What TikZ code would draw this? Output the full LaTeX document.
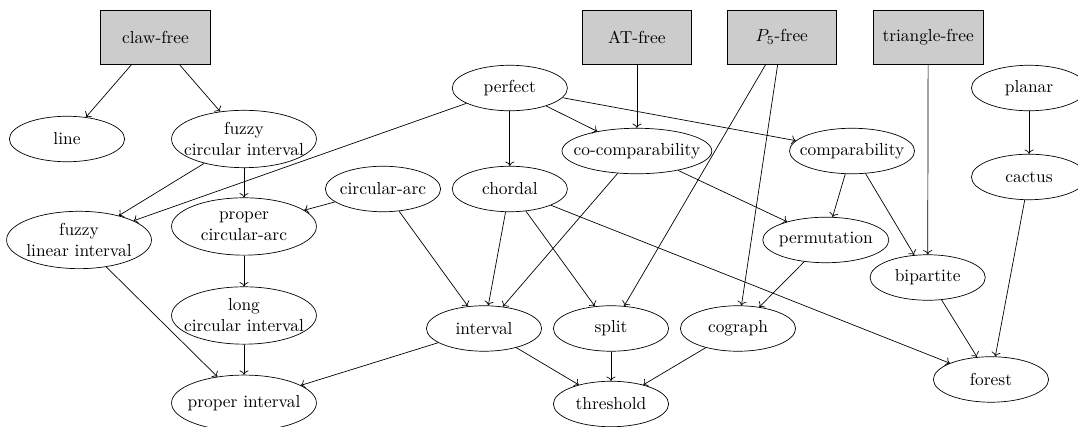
\documentclass[tikz,border=0pt]{standalone}
\usepackage{amsmath,amssymb}
\usepackage{tikz}
\usetikzlibrary{shapes.geometric,arrows.meta}

\begin{document}
\begin{tikzpicture}[
    cls/.style={ellipse, draw, align=center, inner xsep=-15pt, inner ysep=-5pt,
      minimum width=2.33cm, minimum height=0.92cm},
    twoline/.style={minimum width=2.93cm, minimum height=1.16cm},
    free/.style={rectangle, draw, fill=gray!40, minimum width=2.22cm, minimum height=1.09cm},
    edge/.style={->}
  ]
  \useasboundingbox (0,0) rectangle (21.8,8.635);

  % Forbidden-subgraph classes
  \node[free] (claw) at (3.145, 7.887) {claw-free};
  \node[free] (atfree) at (12.88, 7.887) {AT-free};
  \node[free] (pfive) at (15.81, 7.887) {$P_5$-free};
  \node[free] (trifree) at (18.77, 7.887) {triangle-free};

  % Graph classes
  \node[cls] (line) at (1.355, 5.824) {line};
  \node[cls, twoline] (fci) at (4.934, 5.824) {fuzzy\\circular interval};
  \node[cls] (perfect) at (10.31, 6.855) {perfect};
  \node[cls] (planar) at (20.81, 6.855) {planar};
  \node[cls, minimum width=3.03cm] (cocomp) at (12.88, 5.581) {co-comparability};
  \node[cls, minimum width=2.53cm] (comp) at (17.23, 5.581) {comparability};
  \node[cls] (cactus) at (20.81, 5.056) {cactus};
  \node[cls] (carc) at (7.745, 4.813) {circular-arc};
  \node[cls] (chordal) at (10.31, 4.813) {chordal};
  \node[cls, twoline] (fli) at (1.598, 3.782) {fuzzy\\linear interval};
  \node[cls, twoline] (pcarc) at (4.934, 4.055) {proper\\circular-arc};
  \node[cls, minimum width=2.55cm] (perm) at (16.70, 3.782) {permutation};
  \node[cls] (bip) at (18.76, 3.023) {bipartite};
  \node[cls, twoline] (lci) at (4.934, 2.255) {long\\circular interval};
  \node[cls] (interval) at (9.788, 1.992) {interval};
  \node[cls] (split) at (12.356, 1.992) {split};
  \node[cls] (cograph) at (14.924, 1.992) {cograph};
  \node[cls] (forest) at (20.04, 0.961) {forest};
  \node[cls, twoline, minimum height=1.13cm] (pint) at (4.934, 0.485) {proper interval};
  \node[cls] (thresh) at (12.356, 0.465) {threshold};

  % Inclusions
  \draw[edge] (claw) -- (line);
  \draw[edge] (claw) -- (fci);
  \draw[edge] (atfree) -- (cocomp);
  \draw[edge] (pfive) -- (split);
  \draw[edge] (pfive) -- (cograph);
  \draw[edge] (trifree) -- (bip);
  \draw[edge] (planar) -- (cactus);
  \draw[edge] (perfect) -- (fli);
  \draw[edge] (perfect) -- (chordal);
  \draw[edge] (perfect) -- (cocomp);
  \draw[edge] (perfect) -- (comp);
  \draw[edge] (fci) -- (fli);
  \draw[edge] (fci) -- (pcarc);
  \draw[edge] (carc) -- (pcarc);
  \draw[edge] (carc) -- (interval);
  \draw[edge] (chordal) -- (interval);
  \draw[edge] (chordal) -- (split);
  \draw[edge] (chordal) -- (forest);
  \draw[edge] (cocomp) -- (interval);
  \draw[edge] (cocomp) -- (perm);
  \draw[edge] (comp) -- (perm);
  \draw[edge] (comp) -- (bip);
  \draw[edge] (cactus) -- (forest);
  \draw[edge] (fli) -- (pint);
  \draw[edge] (pcarc) -- (lci);
  \draw[edge] (lci) -- (pint);
  \draw[edge] (interval) -- (pint);
  \draw[edge] (interval) -- (thresh);
  \draw[edge] (split) -- (thresh);
  \draw[edge] (cograph) -- (thresh);
  \draw[edge] (perm) -- (cograph);
  \draw[edge] (bip) -- (forest);
\end{tikzpicture}
\end{document}
